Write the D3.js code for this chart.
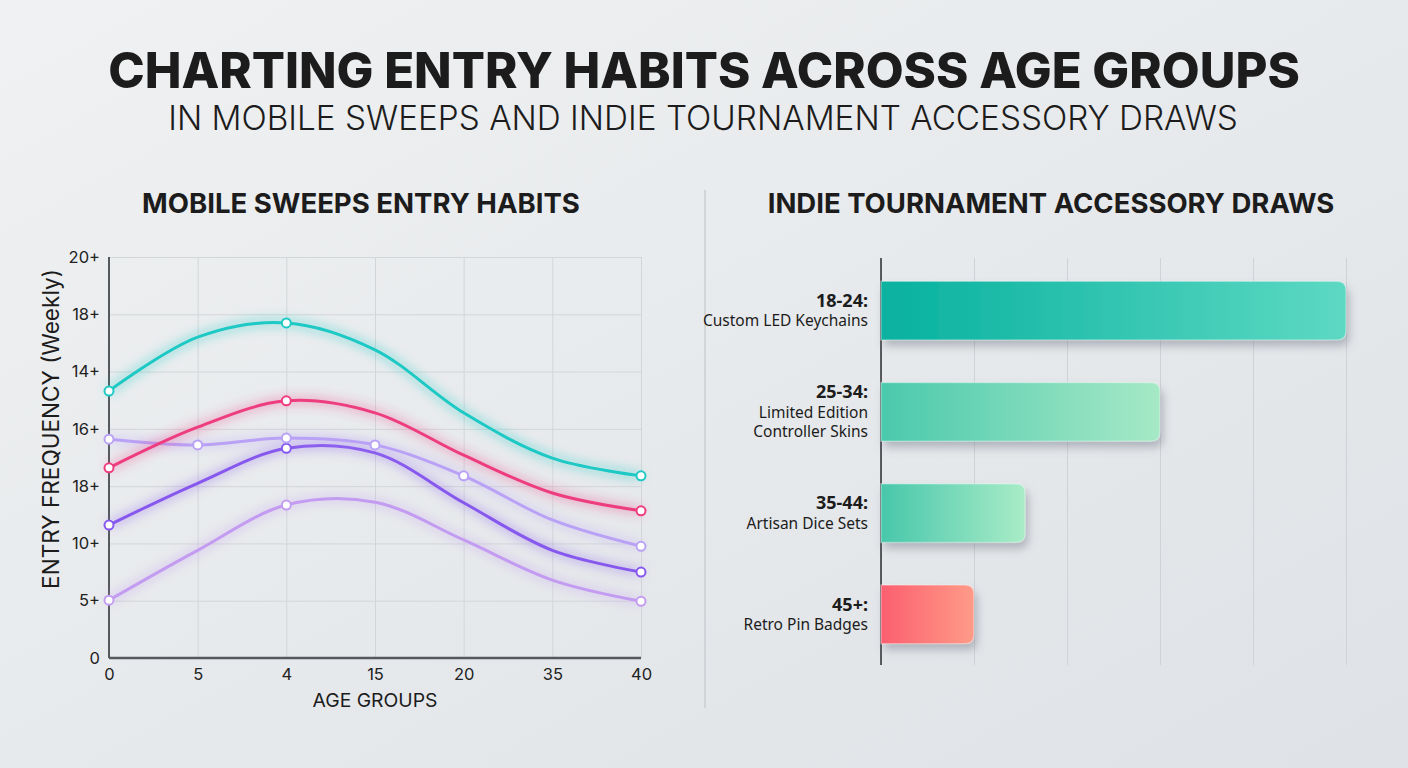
<!DOCTYPE html>
<meta charset="utf-8">
<style>
  body { margin: 0; background: #e8ebed; }
  text { font-family: "Inter", "Open Sans", sans-serif; fill: #1c1c1c; }
  .tick text { fill: #222; }
  .barLabel { font-family: "Noto Sans", "Open Sans", sans-serif; }
</style>
<svg id="chart" width="1408" height="768"></svg>
<script src="https://cdn.jsdelivr.net/npm/d3@7"></script>
<script>

// ---- data ----
const xLabels = ["0", "5", "4", "15", "20", "35", "40"]
const yLabels = ["0", "5+", "10+", "18+", "16+", "14+", "18+", "20+"]

// values are positions on the (ordinal-looking) y scale, 0..7
const seriesNames = ["cyan", "pink", "lavender", "purple", "lilac"]
const seriesColors = ["#1fc9c4", "#ee3d7f", "#b9a2f6", "#8758ee", "#c39cf2"]
const cyanValues     = [4.66, 5.60, 5.85, 5.38, 4.28, 3.49, 3.18]
const pinkValues     = [3.32, 4.03, 4.49, 4.28, 3.54, 2.88, 2.57]
const lavenderValues = [3.82, 3.72, 3.84, 3.72, 3.18, 2.41, 1.95]
const purpleValues   = [2.32, 3.05, 3.66, 3.58, 2.71, 1.88, 1.50]
const lilacValues    = [1.01, 1.88, 2.67, 2.72, 2.06, 1.36, 0.99]
// which x positions carry a marker
const cyanMarkers     = [0, 2, 6]
const pinkMarkers     = [0, 2, 6]
const lavenderMarkers = [0, 1, 2, 3, 4, 6]
const purpleMarkers   = [0, 2, 6]
const lilacMarkers    = [0, 2, 6]

const barAges  = ["18-24:", "25-34:", "35-44:", "45+:"]
const barItems = [["Custom LED Keychains"], ["Limited Edition", "Controller Skins"], ["Artisan Dice Sets"], ["Retro Pin Badges"]]
const barValues = [5, 3, 1.55, 1]
const barColors = [["#07b19f", "#5dd9c3"], ["#4bc9ad", "#a6e9c6"], ["#48c7ab", "#a9ecc7"], ["#fb5f6f", "#ff9b88"]]

const svg = d3.select("#chart")
const defs = svg.append("defs")

// background
const bg = defs.append("linearGradient").attr("id", "bg")
    .attr("x1", 0).attr("y1", 0).attr("x2", 1).attr("y2", 1)
bg.append("stop").attr("offset", 0).attr("stop-color", "#eff1f2")
bg.append("stop").attr("offset", 1).attr("stop-color", "#dfe2e6")
svg.append("rect").attr("width", 1408).attr("height", 768).attr("fill", "url(#bg)")

// glow filter for lines
const glow = defs.append("filter").attr("id", "glow")
    .attr("x", "-10%").attr("y", "-30%").attr("width", "120%").attr("height", "160%")
glow.append("feGaussianBlur").attr("in", "SourceGraphic").attr("stdDeviation", 6).attr("result", "b")
const gm = glow.append("feMerge")
gm.append("feMergeNode").attr("in", "b")
gm.append("feMergeNode").attr("in", "SourceGraphic")

const shadow = defs.append("filter").attr("id", "shadow")
    .attr("x", "-10%").attr("y", "-30%").attr("width", "125%").attr("height", "180%")
shadow.append("feDropShadow").attr("dx", 3).attr("dy", 6).attr("stdDeviation", 5)
    .attr("flood-color", "#6b7280").attr("flood-opacity", 0.45)

// fit a text to a target width by scaling font-size
function fitWidth(sel, target) {
  const w = sel.node().getComputedTextLength()
  const fs = parseFloat(sel.attr("font-size"))
  sel.attr("font-size", fs * target / w)
}

// ---- titles ----
svg.append("text").attr("x", 704).attr("y", 88).attr("text-anchor", "middle")
    .attr("font-size", 46).attr("font-weight", 800)
    .text("CHARTING ENTRY HABITS ACROSS AGE GROUPS")
    .call(fitWidth, 1192)
svg.append("text").attr("x", 703).attr("y", 130).attr("text-anchor", "middle")
    .attr("font-size", 31).attr("font-weight", 300)
    .text("IN MOBILE SWEEPS AND INDIE TOURNAMENT ACCESSORY DRAWS")
    .call(fitWidth, 1070)
svg.append("text").attr("x", 361).attr("y", 213).attr("text-anchor", "middle")
    .attr("font-size", 24).attr("font-weight", 700)
    .text("MOBILE SWEEPS ENTRY HABITS")
    .call(fitWidth, 438)
svg.append("text").attr("x", 1051).attr("y", 213).attr("text-anchor", "middle")
    .attr("font-size", 24).attr("font-weight", 700)
    .text("INDIE TOURNAMENT ACCESSORY DRAWS")
    .call(fitWidth, 567)

// divider
svg.append("line").attr("x1", 705).attr("x2", 705).attr("y1", 190).attr("y2", 708)
    .attr("stroke", "#c4c8cc").attr("stroke-width", 1.2)

// ---- left: line chart ----
const x = d3.scaleLinear().domain([0, 6]).range([109, 641])
const y = d3.scaleLinear().domain([0, 7]).range([658, 257])

const left = svg.append("g")

left.append("g")
    .attr("transform", `translate(0, ${y(0)})`)
    .call(d3.axisBottom(x).tickValues(d3.range(7)).tickSize(-(y(0) - y(7))).tickFormat(i => xLabels[i]).tickPadding(10))
    .call(g => g.select(".domain").remove())
    .call(g => g.selectAll(".tick line").attr("stroke", "#d3d6d9"))
    .call(g => g.selectAll(".tick text").style("font-size", "16.5px"))

left.append("g")
    .attr("transform", `translate(${x(0)}, 0)`)
    .call(d3.axisLeft(y).tickValues(d3.range(8)).tickSize(-(x(6) - x(0))).tickFormat(i => yLabels[i]).tickPadding(9))
    .call(g => g.select(".domain").remove())
    .call(g => g.selectAll(".tick line").attr("stroke", "#d3d6d9"))
    .call(g => g.selectAll(".tick text").style("font-size", "16.5px"))

// axis lines
left.append("line").attr("x1", x(0)).attr("x2", x(0)).attr("y1", y(7)).attr("y2", y(0))
    .attr("stroke", "#55595e").attr("stroke-width", 2)
left.append("line").attr("x1", x(0)).attr("x2", x(6)).attr("y1", y(0)).attr("y2", y(0))
    .attr("stroke", "#55595e").attr("stroke-width", 2.5)

left.append("text").attr("x", 375).attr("y", 707).attr("text-anchor", "middle")
    .attr("font-size", 18).text("AGE GROUPS")
    .call(fitWidth, 125)
left.append("g").attr("transform", `translate(59, 429)`)
  .append("text").attr("transform", "rotate(-90)").attr("text-anchor", "middle")
    .attr("font-size", 18).text("ENTRY FREQUENCY (Weekly)")
    .call(fitWidth, 320)

const lineGen = d3.line()
    .x((d, i) => x(i))
    .y(d => y(d))
    .curve(d3.curveCatmullRom.alpha(0.5))

const allValues = [cyanValues, pinkValues, lavenderValues, purpleValues, lilacValues]
const allMarkers = [cyanMarkers, pinkMarkers, lavenderMarkers, purpleMarkers, lilacMarkers]
const drawOrder = [4, 3, 2, 1, 0]

drawOrder.forEach(k => {
  left.append("path")
      .attr("class", "line-" + seriesNames[k])
      .attr("d", lineGen(allValues[k]))
      .attr("fill", "none")
      .attr("stroke", seriesColors[k])
      .attr("stroke-width", 3)
      .attr("filter", "url(#glow)")
})
drawOrder.forEach(k => {
  left.selectAll(".dot-" + seriesNames[k])
    .data(allMarkers[k])
    .join("circle")
      .attr("class", "dot-" + seriesNames[k])
      .attr("cx", i => x(i))
      .attr("cy", i => y(allValues[k][i]))
      .attr("r", 4.5)
      .attr("fill", "#fff")
      .attr("stroke", seriesColors[k])
      .attr("stroke-width", 2)
})

// ---- right: bar chart ----
const xb = d3.scaleLinear().domain([0, 5]).range([881, 1346])
const yb = d3.scaleBand().domain(barAges).range([260, 665]).paddingInner(0.42).paddingOuter(0.21)

const right = svg.append("g")
right.append("g")
    .attr("transform", `translate(0, 665)`)
    .call(d3.axisBottom(xb).ticks(5).tickSize(-(665 - 258)).tickFormat(""))
    .call(g => g.select(".domain").remove())
    .call(g => g.selectAll(".tick line").attr("stroke", "#cfd2d6"))

right.append("line").attr("x1", xb(0)).attr("x2", xb(0)).attr("y1", 258).attr("y2", 665)
    .attr("stroke", "#2b2d30").attr("stroke-width", 1.5)

barColors.forEach((c, i) => {
  const lg = defs.append("linearGradient").attr("id", "barGrad" + i)
  lg.append("stop").attr("offset", 0).attr("stop-color", c[0])
  lg.append("stop").attr("offset", 1).attr("stop-color", c[1])
})

function barPath(x0, y0, w, h, r) {
  return `M${x0},${y0}H${x0 + w - r}Q${x0 + w},${y0} ${x0 + w},${y0 + r}` +
         `V${y0 + h - r}Q${x0 + w},${y0 + h} ${x0 + w - r},${y0 + h}H${x0}Z`
}

right.selectAll(".bar")
  .data(barValues)
  .join("path")
    .attr("class", "bar")
    .attr("d", (d, i) => barPath(xb(0), yb(barAges[i]), xb(d) - xb(0), yb.bandwidth(), 9))
    .attr("fill", (d, i) => `url(#barGrad${i})`)
    .attr("filter", "url(#shadow)")
right.selectAll(".barEdge")
  .data(barValues)
  .join("path")
    .attr("class", "barEdge")
    .attr("d", (d, i) => barPath(xb(0), yb(barAges[i]), xb(d) - xb(0), yb.bandwidth(), 9))
    .attr("fill", "none")
    .attr("stroke", "#ffffff").attr("stroke-opacity", 0.35).attr("stroke-width", 1.5)

barAges.forEach((age, i) => {
  const lines = [age].concat(barItems[i])
  const cy = yb(age) + yb.bandwidth() / 2
  const lh = 19.5
  const top = cy - (lines.length - 1) * lh / 2
  const t = right.append("text").attr("class", "barLabel").attr("text-anchor", "end")
  lines.forEach((s, j) => {
    t.append("tspan")
        .attr("x", 868)
        .attr("y", top + j * lh + 6)
        .attr("font-size", j === 0 ? 18 : 15.5)
        .attr("font-weight", j === 0 ? 700 : 400)
        .text(s)
  })
})

</script>
